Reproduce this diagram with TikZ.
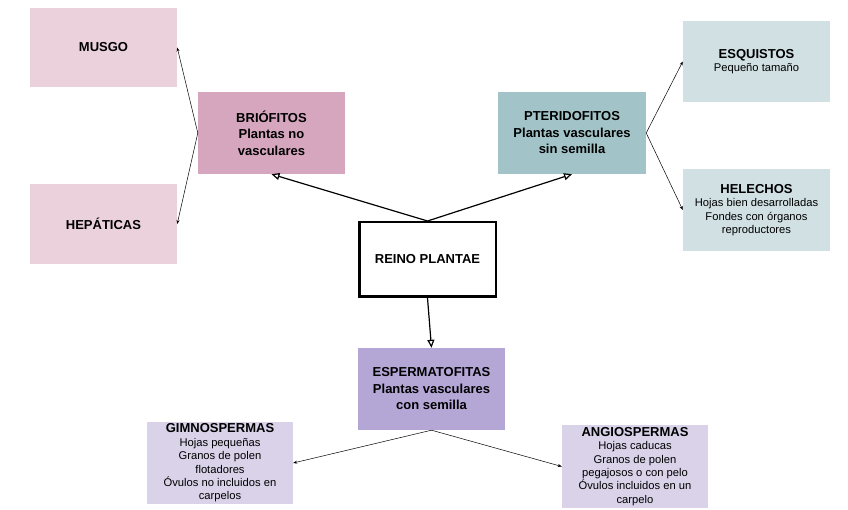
\documentclass[tikz,border=0pt]{standalone}
\usepackage{fontspec}
\setmainfont{Liberation Sans}
\usetikzlibrary{arrows.meta}
\definecolor{musgocolor}{HTML}{EAD1DC}
\definecolor{briocolor}{HTML}{D5A6BD}
\definecolor{pteridocolor}{HTML}{A2C4C9}
\definecolor{helechocolor}{HTML}{D0E0E3}
\definecolor{espermacolor}{HTML}{B4A7D6}
\definecolor{gimnocolor}{HTML}{D9D2E9}
\def \titlefont {\fontsize{13}{16.5}\selectfont\bfseries}
\def \smallfont {\fontsize{11.2}{13.4}\selectfont}
\tikzset{
  box/.style={rectangle, minimum width=147pt, minimum height=81pt, inner sep=1pt, align=center, font=\smallfont},
  titlebox/.style={box, font=\titlefont},
  thinarrow/.style={-{Stealth[length=4pt,width=3pt]}, line width=0.5pt},
  mainarrow/.style={-{Triangle[open,length=8pt,width=7pt]}, line width=1.2pt}
}
\begin{document}
\begin{tikzpicture}[x=1pt,y=-1pt]
\useasboundingbox (0,0) rectangle (848,510);
% Centre box
\node[draw, line width=2.5pt, minimum width=136.5pt, minimum height=74.5pt, font=\titlefont] (reino) at (427.5,259.5) {REINO PLANTAE};
% Left branch
\node[titlebox, fill=briocolor, minimum height=82pt] (briofitos) at (271.5,133) {BRIÓFITOS\\Plantas no\\vasculares};
\node[titlebox, fill=musgocolor, minimum height=79pt] (musgo) at (103.5,47.5) {MUSGO};
\node[titlebox, fill=musgocolor, minimum height=80pt] (hepaticas) at (103.5,224) {HEPÁTICAS};
% Right branch
\node[titlebox, fill=pteridocolor, minimum width=148pt, minimum height=82pt] (pteridofitos) at (572,133) {PTERIDOFITOS\\Plantas vasculares\\sin semilla};
\node[box, fill=helechocolor] (esquistos) at (756.5,61.5) {{\titlefont ESQUISTOS}\\Pequeño tamaño};
\node[box, fill=helechocolor, minimum height=82pt] (helechos) at (756.5,210) {{\titlefont HELECHOS}\\Hojas bien desarrolladas\\Fondes con órganos\\reproductores};
% Bottom branch
\node[titlebox, fill=espermacolor, minimum height=82pt] (espermatofitas) at (431.5,389) {ESPERMATOFITAS\\Plantas vasculares\\con semilla};
\node[box, fill=gimnocolor, minimum width=146pt, minimum height=82pt] (gimnospermas) at (220,463) {{\titlefont GIMNOSPERMAS}\\Hojas pequeñas\\Granos de polen\\flotadores\\Óvulos no incluidos en\\carpelos};
\node[box, fill=gimnocolor, minimum width=146pt, minimum height=83pt] (angiospermas) at (635,466.5) {{\titlefont ANGIOSPERMAS}\\Hojas caducas\\Granos de polen\\pegajosos o con pelo\\Óvulos incluidos en un\\carpelo};
% Arrows from the centre
\foreach \a/\b in {reino.north/briofitos.south, reino.north/pteridofitos.south, reino.south/espermatofitas.north}
  \draw[mainarrow] (\a) -- (\b);
% Arrows to the groups
\foreach \a/\b in {briofitos.west/musgo.east, briofitos.west/hepaticas.east, pteridofitos.east/esquistos.west, pteridofitos.east/helechos.west, espermatofitas.south/gimnospermas.east, espermatofitas.south/angiospermas.west}
  \draw[thinarrow] (\a) -- (\b);
\end{tikzpicture}
\end{document}
